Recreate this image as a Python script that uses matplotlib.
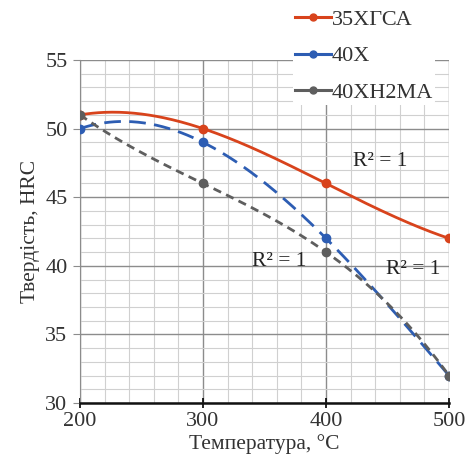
import numpy as np
import matplotlib.pyplot as plt
from matplotlib.ticker import MultipleLocator

# Data
temps = [200, 300, 400, 500]
hrc_35 = [51, 50, 46, 42]
hrc_40x = [50, 49, 42, 32]
hrc_40xn = [51, 46, 41, 32]
names = ['35ХГСА', '40Х', '40ХН2МА']
colors = ['#D8431C', '#2D5DB3', '#5E5E5E']
styles = ['-', (0, (6, 3)), (0, (3, 2))]
r2_pos = [(444, 47.6), (362, 40.3), (471, 39.7)]

plt.rcParams['font.family'] = ['Liberation Serif', 'DejaVu Serif']

def main():
    fig = plt.figure(figsize=(4.68, 4.73), dpi=100)
    ax = fig.add_axes([80 / 468, 70 / 473, 369 / 468, 343 / 473])

    t = np.array(temps, dtype=float)
    tSpace = np.linspace(200, 500, 300)
    for vals, name, c, ls in zip([hrc_35, hrc_40x, hrc_40xn], names, colors, styles):
        # third order trendline through the four points (R^2 = 1)
        coef = np.polyfit(t, vals, 3)
        ax.plot(tSpace, np.polyval(coef, tSpace), color=c, lw=2, linestyle=ls, zorder=3)
        ax.plot(t, vals, 'o', color=c, ms=6, zorder=4)
        ax.plot([], [], '-o', color=c, lw=2.2, ms=5, label=name)

    for x, y in r2_pos:
        ax.text(x, y, 'R² = 1', fontsize=15.5, ha='center', va='center', color='#222222', zorder=5)

    ax.set_xlim(200, 500)
    ax.set_ylim(30, 55)
    ax.xaxis.set_major_locator(MultipleLocator(100))
    ax.xaxis.set_minor_locator(MultipleLocator(20))
    ax.yaxis.set_major_locator(MultipleLocator(5))
    ax.yaxis.set_minor_locator(MultipleLocator(1))
    ax.grid(which='major', color='#8c8c8c', lw=1.0)
    ax.grid(which='minor', color='#d0d0d0', lw=0.8)
    ax.set_axisbelow(True)

    for s in ['top', 'right']:
        ax.spines[s].set_visible(False)
    ax.spines['left'].set_color('#8c8c8c')
    ax.spines['bottom'].set_color('#111111')
    ax.spines['bottom'].set_linewidth(1.8)
    ax.tick_params(which='minor', length=0)
    ax.tick_params(axis='x', which='major', direction='inout', length=7, width=1.2, pad=3)
    ax.tick_params(axis='y', which='major', direction='out', length=5, color='#8c8c8c', pad=4)
    ax.tick_params(labelsize=16, labelcolor='#333333')

    ax.set_xlabel('Температура, °C', fontsize=15.5, color='#333333', labelpad=2)
    ax.set_ylabel('Твердість, HRC', fontsize=15.5, color='#333333', labelpad=4)

    leg = fig.legend(loc='upper left', bbox_to_anchor=(293 / 468, 1 - 7 / 473),
                     fontsize=16, frameon=True, handlelength=1.6, handletextpad=0.05,
                     labelspacing=0.72, borderpad=0.1, borderaxespad=0.0)
    leg.get_frame().set_facecolor('white')
    leg.get_frame().set_edgecolor('none')
    leg.get_frame().set_alpha(1)
    for txt in leg.get_texts():
        txt.set_color('#333333')

    fig.savefig('out.png', dpi=100)


if __name__ == "__main__":
    main()
